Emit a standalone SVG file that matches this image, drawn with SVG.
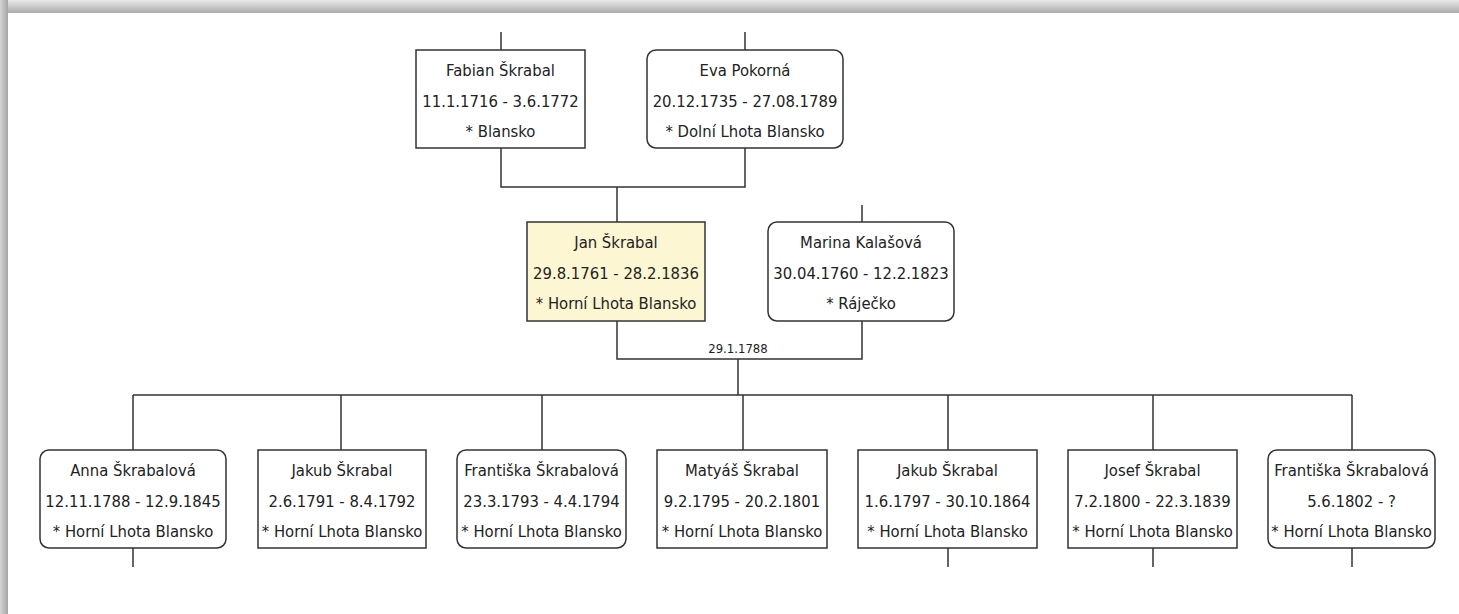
<svg xmlns="http://www.w3.org/2000/svg" width="1459" height="614" viewBox="0 0 1459 614">
<defs>
<linearGradient id="gTop" x1="0" y1="0" x2="0" y2="1">
<stop offset="0" stop-color="#e8e8e8"/>
<stop offset="1" stop-color="#acacac"/>
</linearGradient>
<linearGradient id="gLeft" x1="0" y1="0" x2="1" y2="0">
<stop offset="0" stop-color="#d4d4d4"/>
<stop offset="1" stop-color="#a4a4a4"/>
</linearGradient>
<style>
.box{fill:#fff;stroke:#333;stroke-width:1.5}
.sel{fill:#fdf6d2;stroke:#333;stroke-width:1.5}
.ln{fill:none;stroke:#333;stroke-width:1.5}
.t{font-family:"DejaVu Sans Condensed","DejaVu Sans",sans-serif;font-size:16.5px;fill:#222;text-anchor:middle}
.lbl{font-family:"DejaVu Sans Condensed","DejaVu Sans",sans-serif;font-size:13px;fill:#222;text-anchor:middle}
</style>
</defs>
<rect width="1459" height="614" fill="#fff"/>
<rect x="0" y="0" width="1459" height="13" fill="url(#gTop)"/>
<rect x="0" y="0" width="8" height="614" fill="url(#gLeft)"/>

<g id="connectors">
<path class="ln" d="M501 32V50M745 32V50"/>
<path class="ln" d="M501 148V187H745V148M617 187V222"/>
<path class="ln" d="M862 205V222"/>
<path class="ln" d="M617 321V359H862V321M738 359V395"/>
<path class="ln" d="M133 395H1352M133 395V450M341 395V450M542 395V450M743 395V450M948 395V450M1153 395V450M1352 395V450"/>
<path class="ln" d="M133 548V567M948 548V567M1153 548V567M1352 548V567"/>
<text class="lbl" x="738" y="353">29.1.1788</text>
</g>

<g id="fabian">
<rect class="box" x="416" y="50" width="169" height="98"/>
<text class="t" x="500.5" y="76">Fabian Škrabal</text>
<text class="t" x="500.5" y="107">11.1.1716 - 3.6.1772</text>
<text class="t" x="500.5" y="137">* Blansko</text>
</g>
<g id="eva">
<rect class="box" x="647" y="50" width="196" height="98" rx="9"/>
<text class="t" x="745" y="76">Eva Pokorná</text>
<text class="t" x="745" y="107">20.12.1735 - 27.08.1789</text>
<text class="t" x="745" y="137">* Dolní Lhota Blansko</text>
</g>
<g id="jan">
<rect class="sel" x="527" y="222" width="178" height="99"/>
<text class="t" x="616" y="248">Jan Škrabal</text>
<text class="t" x="616" y="279">29.8.1761 - 28.2.1836</text>
<text class="t" x="616" y="309">* Horní Lhota Blansko</text>
</g>
<g id="marina">
<rect class="box" x="768" y="222" width="186" height="99" rx="9"/>
<text class="t" x="861" y="248">Marina Kalašová</text>
<text class="t" x="861" y="279">30.04.1760 - 12.2.1823</text>
<text class="t" x="861" y="309">* Ráječko</text>
</g>

<g id="anna">
<rect class="box" x="40" y="450" width="186" height="98" rx="9"/>
<text class="t" x="133" y="476">Anna Škrabalová</text>
<text class="t" x="133" y="507">12.11.1788 - 12.9.1845</text>
<text class="t" x="133" y="537">* Horní Lhota Blansko</text>
</g>
<g id="jakub1">
<rect class="box" x="258" y="450" width="168" height="98"/>
<text class="t" x="342" y="476">Jakub Škrabal</text>
<text class="t" x="342" y="507">2.6.1791 - 8.4.1792</text>
<text class="t" x="342" y="537">* Horní Lhota Blansko</text>
</g>
<g id="frantiska1">
<rect class="box" x="457" y="450" width="169" height="98" rx="9"/>
<text class="t" x="541.5" y="476">Františka Škrabalová</text>
<text class="t" x="541.5" y="507">23.3.1793 - 4.4.1794</text>
<text class="t" x="541.5" y="537">* Horní Lhota Blansko</text>
</g>
<g id="matyas">
<rect class="box" x="657" y="450" width="170" height="98"/>
<text class="t" x="742" y="476">Matyáš Škrabal</text>
<text class="t" x="742" y="507">9.2.1795 - 20.2.1801</text>
<text class="t" x="742" y="537">* Horní Lhota Blansko</text>
</g>
<g id="jakub2">
<rect class="box" x="858" y="450" width="179" height="98"/>
<text class="t" x="947.5" y="476">Jakub Škrabal</text>
<text class="t" x="947.5" y="507">1.6.1797 - 30.10.1864</text>
<text class="t" x="947.5" y="537">* Horní Lhota Blansko</text>
</g>
<g id="josef">
<rect class="box" x="1068" y="450" width="169" height="98"/>
<text class="t" x="1152.5" y="476">Josef Škrabal</text>
<text class="t" x="1152.5" y="507">7.2.1800 - 22.3.1839</text>
<text class="t" x="1152.5" y="537">* Horní Lhota Blansko</text>
</g>
<g id="frantiska2">
<rect class="box" x="1268" y="450" width="167" height="98" rx="9"/>
<text class="t" x="1351.5" y="476">Františka Škrabalová</text>
<text class="t" x="1351.5" y="507">5.6.1802 - ?</text>
<text class="t" x="1351.5" y="537">* Horní Lhota Blansko</text>
</g>
</svg>
